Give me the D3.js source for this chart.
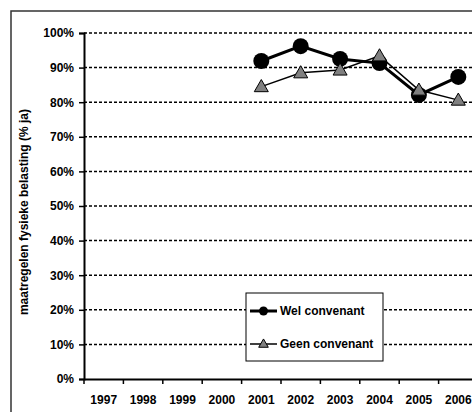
<!DOCTYPE html>
<html>
<head>
<meta charset="utf-8">
<script src="https://cdn.jsdelivr.net/npm/d3@7"></script>
<style>
  body { margin: 0; background: #fff; }
  svg { display: block; font-family: "Liberation Sans", Arial, sans-serif; font-weight: bold; }
</style>
</head>
<body>
<svg id="chart" width="472" height="412"></svg>
<script>
// data
const years = ["1997", "1998", "1999", "2000", "2001", "2002", "2003", "2004", "2005", "2006"];
const welYears = ["2001", "2002", "2003", "2004", "2005", "2006"];
const welValues = [91.9, 96.2, 92.5, 91.3, 82.1, 87.3];
const geenYears = ["2001", "2002", "2003", "2004", "2005", "2006"];
const geenValues = [84.5, 88.5, 89.3, 93.4, 83.5, 80.6];
const yTicks = [0, 10, 20, 30, 40, 50, 60, 70, 80, 90, 100];
const yTitle = "maatregelen fysieke belasting (% ja)";
const legendLabels = ["Wel convenant", "Geen convenant"];

function render_chart()
{
    let svg = d3.select("#chart");
    let font_size = 12;

    // outer frame, runs off the page on the right and bottom
    svg.append("rect")
        .attr("x", 11).attr("y", 11)
        .attr("width", 520).attr("height", 440)
        .attr("fill", "#fff")
        .attr("stroke", "#333")
        .attr("stroke-width", 1.5);

    let plot_left = 84, plot_top = 33, plot_bottom = 379, plot_right = 478;

    let x = d3.scaleBand().domain(years).range([plot_left, plot_right]);
    let y = d3.scaleLinear().domain([0, 100]).range([plot_bottom, plot_top]);

    // gridlines
    svg.append("g")
        .selectAll("line")
        .data(yTicks.filter(d => d > 0))
        .join("line")
            .attr("x1", plot_left).attr("x2", plot_right)
            .attr("y1", d => y(d)).attr("y2", d => y(d))
            .attr("stroke", "#000")
            .attr("stroke-width", 1.5)
            .attr("stroke-dasharray", "3,2");

    // y axis
    let yAxis = svg.append("g")
        .attr("transform", `translate(${plot_left},0)`)
        .call(d3.axisLeft(y).tickValues(yTicks).tickSize(5).tickPadding(5).tickFormat(d => d + "%"));
    yAxis.select(".domain").attr("stroke-width", 2);
    yAxis.selectAll(".tick line").attr("stroke-width", 1.5);
    yAxis.selectAll("text")
        .attr("font-size", font_size)
        .attr("font-family", "Liberation Sans, Arial, sans-serif")
        .attr("font-weight", "bold")
        .attr("fill", "#000");

    // x axis: labels centred in the bands, ticks on band edges
    let xAxis = svg.append("g")
        .attr("transform", `translate(0,${plot_bottom})`)
        .call(d3.axisBottom(x).tickSize(0).tickPadding(16));
    xAxis.select(".domain").attr("stroke-width", 2);
    xAxis.selectAll("text")
        .attr("font-size", font_size)
        .attr("font-family", "Liberation Sans, Arial, sans-serif")
        .attr("font-weight", "bold")
        .attr("fill", "#000");
    svg.append("g")
        .selectAll("line")
        .data(years)
        .join("line")
            .attr("x1", d => x(d)).attr("x2", d => x(d))
            .attr("y1", plot_bottom).attr("y2", plot_bottom + 5)
            .attr("stroke", "#000")
            .attr("stroke-width", 1.5);

    // y title
    svg.append("text")
        .attr("transform", "translate(28,212) rotate(-90)")
        .attr("text-anchor", "middle")
        .attr("font-size", font_size)
        .text(yTitle);

    let cx = d => x(d) + x.bandwidth() / 2;
    let line = d3.line().x(d => cx(d[0])).y(d => y(d[1]));
    let tri = d3.symbol().type(d3.symbolTriangle);

    let welData = welYears.map((d, i) => [d, welValues[i]]);
    let geenData = geenYears.map((d, i) => [d, geenValues[i]]);

    // wel convenant
    svg.append("path")
        .attr("d", line(welData))
        .attr("fill", "none")
        .attr("stroke", "#000")
        .attr("stroke-width", 3);

    // geen convenant
    svg.append("path")
        .attr("d", line(geenData))
        .attr("fill", "none")
        .attr("stroke", "#000")
        .attr("stroke-width", 1.5);

    svg.append("g")
        .selectAll("circle")
        .data(welData)
        .join("circle")
            .attr("cx", d => cx(d[0]))
            .attr("cy", d => y(d[1]))
            .attr("r", 8)
            .attr("fill", "#000");

    svg.append("g")
        .selectAll("path")
        .data(geenData)
        .join("path")
            .attr("transform", d => `translate(${cx(d[0])},${y(d[1]) + 1})`)
            .attr("d", tri.size(85))
            .attr("fill", "#808080")
            .attr("stroke", "#000")
            .attr("stroke-width", 1);

    // legend
    let legend = svg.append("g").attr("transform", "translate(246,293)");
    legend.append("rect")
        .attr("width", 137).attr("height", 68)
        .attr("fill", "#fff")
        .attr("stroke", "#000")
        .attr("stroke-width", 1);
    let rows = [18, 51];
    legendLabels.forEach((label, i) => {
        let g = legend.append("g").attr("transform", `translate(0,${rows[i]})`);
        g.append("line")
            .attr("x1", 4).attr("x2", 31)
            .attr("stroke", "#000")
            .attr("stroke-width", i == 0 ? 3 : 1.5);
        if (i == 0)
        {
            g.append("circle").attr("cx", 17.5).attr("r", 4.5).attr("fill", "#000");
        }
        else
        {
            g.append("path")
                .attr("transform", "translate(17.5,0.5)")
                .attr("d", tri.size(40))
                .attr("fill", "#808080")
                .attr("stroke", "#000")
                .attr("stroke-width", 1);
        }
        g.append("text")
            .attr("x", 34)
            .attr("dy", "0.35em")
            .attr("font-size", font_size)
            .text(label);
    });
}

render_chart();
</script>
</body>
</html>
